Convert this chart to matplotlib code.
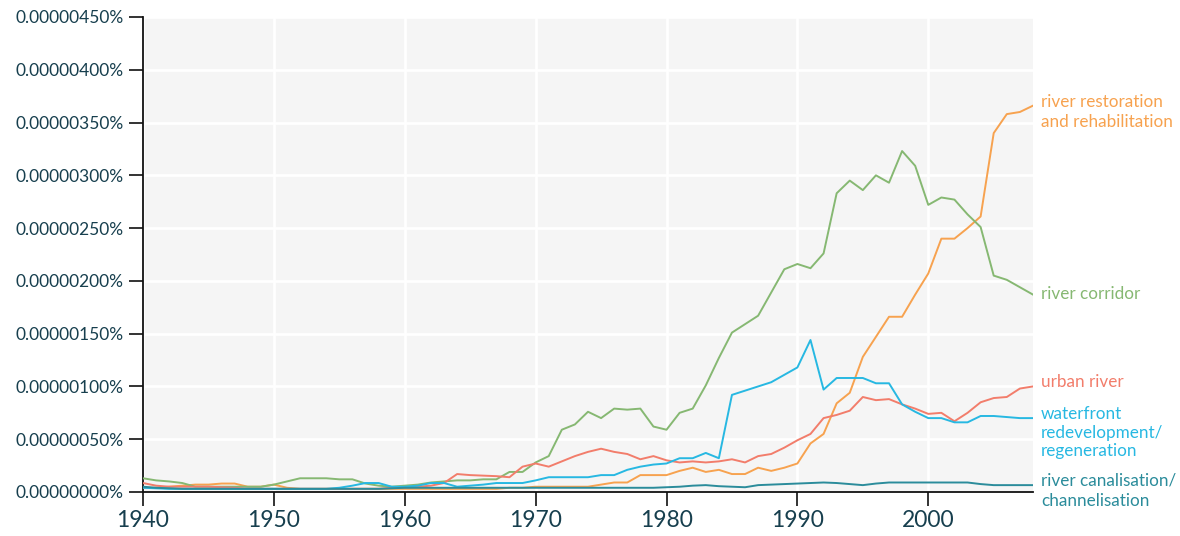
import matplotlib
matplotlib.use("Agg")
import matplotlib.pyplot as plt
from matplotlib.ticker import FuncFormatter, MultipleLocator

plt.rcParams['font.family'] = ['Lato', 'DejaVu Sans']

# values in millionths of a percent (1.0 -> 0.000001%)
years = list(range(1940, 2009))

corridor = [0.13, 0.11, 0.10, 0.085, 0.05, 0.05, 0.05, 0.05, 0.05, 0.05,
            0.07, 0.10, 0.13, 0.13, 0.13, 0.12, 0.12, 0.08, 0.06, 0.05,
            0.06, 0.07, 0.09, 0.10, 0.11, 0.11, 0.12, 0.12, 0.19, 0.19,
            0.28, 0.34, 0.59, 0.64, 0.76, 0.70, 0.79, 0.78, 0.79, 0.62,
            0.59, 0.75, 0.79, 1.01, 1.27, 1.51, 1.59, 1.67, 1.89, 2.11,
            2.16, 2.12, 2.26, 2.83, 2.95, 2.86, 3.00, 2.93, 3.23, 3.09,
            2.72, 2.79, 2.77, 2.63, 2.51, 2.05, 2.01, 1.94, 1.87]

restoration = [0.04, 0.04, 0.05, 0.06, 0.07, 0.07, 0.08, 0.08, 0.05, 0.05,
               0.07, 0.04, 0.03, 0.03, 0.03, 0.03, 0.03, 0.03, 0.03, 0.03,
               0.03, 0.03, 0.03, 0.03, 0.03, 0.03, 0.03, 0.03, 0.04, 0.04,
               0.05, 0.05, 0.05, 0.05, 0.05, 0.07, 0.09, 0.09, 0.16, 0.16,
               0.16, 0.20, 0.23, 0.19, 0.21, 0.17, 0.17, 0.23, 0.20, 0.23,
               0.27, 0.46, 0.55, 0.84, 0.94, 1.28, 1.47, 1.66, 1.66, 1.87,
               2.07, 2.40, 2.40, 2.50, 2.61, 3.40, 3.58, 3.60, 3.66]

urban = [0.085, 0.06, 0.05, 0.05, 0.05, 0.05, 0.045, 0.04, 0.03, 0.03,
         0.03, 0.03, 0.03, 0.03, 0.03, 0.03, 0.03, 0.03, 0.03, 0.04,
         0.04, 0.05, 0.06, 0.085, 0.17, 0.16, 0.155, 0.15, 0.14, 0.24,
         0.27, 0.24, 0.29, 0.34, 0.38, 0.41, 0.38, 0.36, 0.31, 0.34,
         0.30, 0.28, 0.29, 0.28, 0.29, 0.31, 0.28, 0.34, 0.36, 0.42,
         0.49, 0.55, 0.70, 0.73, 0.77, 0.90, 0.87, 0.88, 0.83, 0.79,
         0.74, 0.75, 0.67, 0.75, 0.85, 0.89, 0.90, 0.98, 1.00]

waterfront = [0.04, 0.035, 0.03, 0.03, 0.03, 0.03, 0.03, 0.03, 0.03, 0.03,
              0.03, 0.03, 0.03, 0.03, 0.03, 0.04, 0.06, 0.085, 0.085, 0.05,
              0.05, 0.06, 0.085, 0.085, 0.05, 0.06, 0.07, 0.085, 0.085, 0.085,
              0.11, 0.14, 0.14, 0.14, 0.14, 0.16, 0.16, 0.21, 0.24, 0.26,
              0.27, 0.32, 0.32, 0.37, 0.32, 0.92, 0.96, 1.00, 1.04, 1.11,
              1.18, 1.44, 0.97, 1.08, 1.08, 1.08, 1.03, 1.03, 0.83, 0.76,
              0.70, 0.70, 0.66, 0.66, 0.72, 0.72, 0.71, 0.70, 0.70]

canalisation = [0.05, 0.04, 0.035, 0.03, 0.03, 0.03, 0.03, 0.03, 0.03, 0.03,
                0.03, 0.03, 0.03, 0.03, 0.03, 0.03, 0.03, 0.03, 0.03, 0.035,
                0.04, 0.04, 0.04, 0.04, 0.04, 0.04, 0.04, 0.04, 0.04, 0.04,
                0.04, 0.04, 0.04, 0.04, 0.04, 0.04, 0.04, 0.04, 0.04, 0.04,
                0.045, 0.05, 0.06, 0.065, 0.055, 0.05, 0.045, 0.065, 0.07, 0.075,
                0.08, 0.085, 0.09, 0.085, 0.075, 0.065, 0.08, 0.09, 0.09, 0.09,
                0.09, 0.09, 0.09, 0.09, 0.075, 0.065, 0.065, 0.065, 0.065]

# label text, values, colour, y position of the end label
series = [
    ("river restoration\nand rehabilitation", restoration, "#f7a24f", 3.60),
    ("river corridor", corridor, "#86b872", 1.88),
    ("urban river", urban, "#f27d6b", 1.04),
    ("waterfront\nredevelopment/\nregeneration", waterfront, "#27b8e2", 0.56),
    ("river canalisation/\nchannelisation", canalisation, "#2b8c9b", 0.01),
]

tick_color = "#173f4e"

fig = plt.figure(figsize=(11.8, 5.36), dpi=100)
ax = fig.add_axes([0.1212, 0.0821, 0.7542, 0.8862])
ax.set_facecolor("#f5f5f5")

for label, vals, color, ylab in series:
    ax.plot(years, vals, color=color, lw=1.4, zorder=3)
    ls = 1.2 if label.count("\n") == 2 else 1.35
    ax.text(2008.6, ylab, label, color=color, fontsize=12.3, va="center",
            ha="left", linespacing=ls, clip_on=False)

ax.set_xlim(1940, 2008)
ax.set_ylim(0, 4.5)
ax.xaxis.set_major_locator(MultipleLocator(10))
ax.yaxis.set_major_locator(MultipleLocator(0.5))
ax.yaxis.set_major_formatter(FuncFormatter(lambda v, p: f"{v * 1e-6:.8f}%"))

ax.grid(True, color="white", lw=2, zorder=1)
ax.set_axisbelow(True)
for s in ("top", "right"):
    ax.spines[s].set_visible(False)
for s in ("left", "bottom"):
    ax.spines[s].set_color("#111111")
    ax.spines[s].set_linewidth(1.3)

ax.tick_params(axis="both", direction="out", length=10, width=1.4,
               color="#333333", labelcolor=tick_color, labelsize=12.5, pad=4)
ax.tick_params(axis="x", labelsize=16.5, pad=3)

fig.savefig("out.png", dpi=100)
